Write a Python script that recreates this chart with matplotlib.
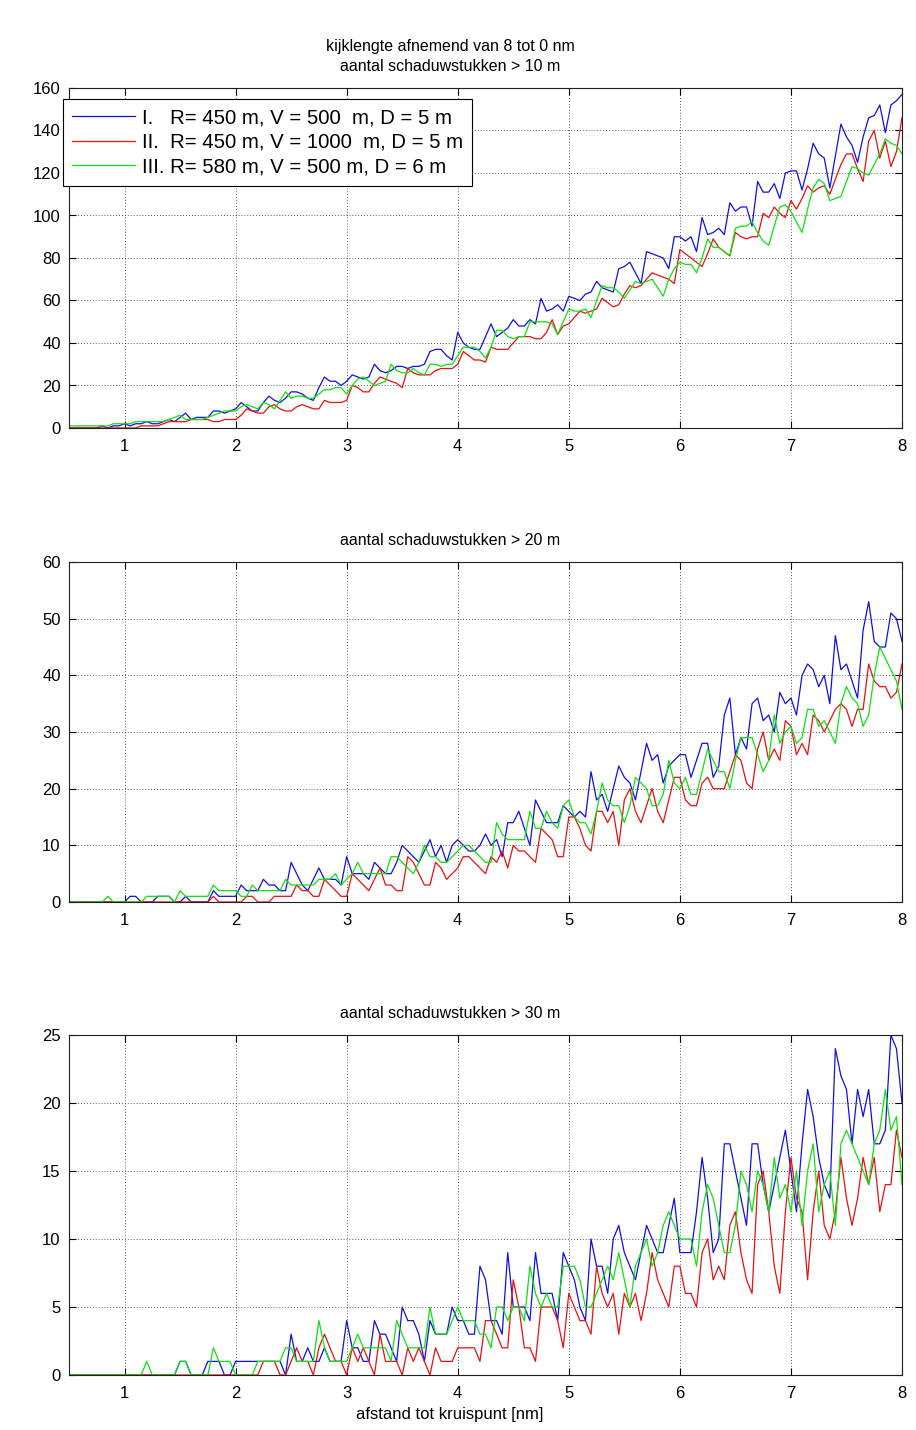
import numpy as np
import matplotlib
matplotlib.use('Agg')
import matplotlib.pyplot as plt

plt.rcParams['font.family'] = ['Liberation Sans', 'DejaVu Sans']

suptitle = 'kijklengte afnemend van 8 tot 0 nm'
titles = ['aantal schaduwstukken > 10 m', 'aantal schaduwstukken > 20 m', 'aantal schaduwstukken > 30 m']
xlab = 'afstand tot kruispunt [nm]'
labels = ['I.   R= 450 m, V = 500  m, D = 5 m',
          'II.  R= 450 m, V = 1000  m, D = 5 m',
          'III. R= 580 m, V = 500 m, D = 6 m']
colours = ['#1010e0', '#e81010', '#10e010']

# distance grid (nm), 0.05 nm steps
afstand = np.linspace(0.5, 8, 151)

# > 10 m
p10_I = [0,0,0,0,0,0,1,0,1,1,
         2,1,2,2,3,2,2,3,4,3, 5,7,4,5,5,5,8,8,7,8,
         9,12,10,8,8,12,15,13,12,14, 17,17,16,14,13,19,24,22,22,20,
         22,25,24,23,24,30,27,26,27,29, 29,28,29,29,30,36,37,37,34,32,
         45,40,38,37,37,43,49,43,45,47, 51,48,48,51,49,61,55,56,58,55,
         62,61,60,63,64,69,66,65,64,75, 76,78,73,68,83,82,81,80,75,90,
         90,88,90,83,99,91,92,94,91,106, 102,104,104,95,116,111,111,115,108,120,
         121,121,112,122,134,129,127,113,128,143, 137,133,125,137,146,147,152,139,152,154,157]
p10_II = [0,0,0,0,0,0,0,0,0,0,
          0,0,0,1,1,1,1,2,3,3, 3,3,4,4,4,4,3,3,4,4,
          4,6,9,8,7,7,10,11,9,8, 8,10,11,10,9,9,13,12,12,12,
          13,20,19,17,17,21,24,23,22,21, 19,28,26,25,25,25,27,28,28,28,
          30,36,34,32,32,31,38,37,37,37, 40,43,43,43,42,42,45,51,44,48,
          49,52,55,54,55,56,61,59,57,58, 63,67,66,67,70,73,72,71,70,68,
          84,82,80,78,76,82,89,85,83,81, 92,90,89,90,90,101,99,104,101,99,
          107,103,108,114,111,113,114,110,117,124, 129,129,122,116,135,140,127,135,123,130,146]
p10_III = [1,1,1,1,1,1,1,1,2,2,
           2,2,3,3,3,3,3,3,4,5, 6,4,4,4,4,5,6,7,8,8,
           8,10,11,10,9,12,11,9,13,17, 14,15,15,14,14,16,18,18,19,19,
           16,20,23,24,22,20,21,22,30,27, 26,26,28,26,25,30,30,29,30,30,
           34,38,38,38,36,33,38,46,46,43, 42,43,43,50,50,50,50,49,44,50,
           56,55,55,56,52,60,67,66,66,64, 61,65,69,68,69,70,66,62,70,75,
           78,77,77,73,80,89,85,85,83,81, 94,95,95,97,92,88,86,95,104,105,
           102,97,92,103,113,117,115,107,108,109, 116,123,122,120,119,124,129,136,134,133,129]

# > 20 m
p20_I = [0,0,0,0,0,0,0,0,0,0,
         0,1,1,0,0,0,1,1,1,0, 0,1,0,0,0,0,2,1,1,1,
         1,3,2,2,2,4,3,3,2,2, 7,5,3,2,4,6,4,4,4,3,
         8,5,5,5,4,7,6,5,5,7, 10,9,8,7,9,11,8,10,7,10,
         11,10,9,9,10,12,10,11,8,14, 14,16,13,10,18,16,14,14,14,17,
         16,15,16,15,23,18,19,16,20,24, 22,21,18,23,28,25,26,21,24,25,
         26,26,22,25,28,28,22,24,33,36, 26,29,27,35,36,32,33,30,37,35,
         36,33,40,42,41,38,40,35,47,41, 42,39,36,48,53,46,45,45,51,50,46]
p20_II = [0,0,0,0,0,0,0,0,0,0,
          0,0,0,0,0,0,0,0,0,0, 0,0,0,0,0,0,1,0,0,0,
          0,0,1,1,0,0,0,1,1,1, 1,3,2,2,1,1,4,3,2,1,
          1,5,4,3,2,4,6,3,3,2, 2,8,7,5,3,3,7,6,4,5,
          6,8,8,7,6,5,8,7,9,6, 10,9,9,8,7,13,12,11,8,8,
          15,15,13,10,9,16,16,14,16,10, 18,20,16,14,17,20,16,14,18,22,
          22,18,17,17,21,22,20,20,20,23, 26,25,21,20,27,30,25,27,25,32,
          31,26,28,26,33,32,30,32,34,35, 34,31,34,34,42,39,38,38,36,37,42]
p20_III = [0,0,0,0,0,0,0,1,0,0,
           0,0,0,0,1,1,1,1,1,0, 2,1,1,1,1,1,3,2,2,2,
           2,1,1,3,2,2,2,2,2,4, 3,3,3,3,3,4,4,4,5,3,
           4,5,7,5,5,5,5,5,8,8, 7,6,5,7,10,8,8,7,7,8,
           9,10,10,9,8,7,7,14,12,11, 11,11,11,16,13,13,16,14,13,17,
           18,15,14,14,12,16,21,18,17,17, 14,17,22,21,20,17,17,19,25,21,
           20,22,19,19,23,27,25,23,23,20, 25,29,29,29,26,23,25,33,28,30,
           31,28,29,34,34,31,32,30,28,35, 38,36,35,31,33,40,45,43,41,39,34]

# > 30 m
p30_I = [0,0,0,0,0,0,0,0,0,0,
         0,0,0,0,0,0,0,0,0,0, 1,1,0,0,0,1,1,1,0,0,
         1,1,1,1,1,1,1,1,1,0, 3,1,1,2,1,1,2,1,1,1,
         4,2,2,1,1,4,3,3,2,1, 5,4,4,3,1,4,3,3,3,5,
         4,4,3,3,8,7,4,4,3,9, 5,5,5,4,9,6,6,6,4,9,
         8,7,5,4,10,8,8,6,10,11, 9,8,7,9,11,10,9,9,11,13,
         9,9,9,12,16,13,9,10,17,17, 15,13,11,17,17,14,12,14,16,18,
         15,12,17,21,19,16,14,13,24,22, 21,17,21,19,21,17,17,18,25,24,20]
p30_II = [0,0,0,0,0,0,0,0,0,0,
          0,0,0,0,0,0,0,0,0,0, 0,0,0,0,0,0,0,0,0,0,
          0,0,0,0,0,1,1,1,0,0, 1,2,1,1,0,2,3,2,1,1,
          0,2,1,2,1,0,3,1,1,1, 0,2,1,2,1,0,2,1,1,1,
          2,2,2,2,1,4,4,3,2,2, 7,5,2,2,1,5,5,5,4,2,
          6,5,4,4,3,8,6,5,6,3, 6,5,6,4,6,9,7,6,5,8,
          8,6,6,5,9,10,7,8,7,11, 12,9,7,6,14,15,12,8,6,12,
          16,13,12,7,12,15,11,10,12,16, 13,11,13,16,14,16,12,14,14,18,16]
p30_III = [0,0,0,0,0,0,0,0,0,0,
           0,0,0,0,1,0,0,0,0,0, 1,1,0,0,0,0,2,1,1,1,
           0,0,0,0,1,1,1,1,1,2, 2,1,1,1,1,4,2,1,1,1,
           1,2,3,2,2,2,2,2,1,4, 3,2,2,2,2,5,3,3,3,4,
           5,4,4,4,3,3,2,5,5,4, 5,5,4,8,6,5,6,5,5,8,
           8,8,7,5,5,6,7,8,7,9, 7,5,8,9,10,8,9,11,12,11,
           10,10,10,8,12,14,13,11,9,9, 11,15,14,12,15,14,12,16,13,14,
           12,15,11,15,17,12,14,15,11,17, 18,17,16,15,14,17,18,21,18,19,14]

data = [[p10_I, p10_II, p10_III], [p20_I, p20_II, p20_III], [p30_I, p30_II, p30_III]]
ymax = [160, 60, 25]
ystep = [20, 10, 5]

W, H = 916, 1430
fig = plt.figure(figsize=(W/100, H/100), dpi=100)
xc = 450/W   # titles are centred a bit left of the axes centre
fig.text(xc, 1-47/H, suptitle, ha='center', va='center', fontsize=11.5)

left, right = 69, 902
tops = [88, 562, 1035]
hgt = 340
tx = (450-left)/(right-left)

for k in range(3):
    ax = fig.add_axes([left/W, 1-(tops[k]+hgt)/H, (right-left)/W, hgt/H])
    lines = []
    for j in range(3):
        l, = ax.plot(afstand, data[k][j], color=colours[j], lw=0.9)
        lines.append(l)
    ax.set_xlim(0.5, 8)
    ax.set_ylim(0, ymax[k])
    ax.set_xticks(range(1, 9))
    ax.set_yticks(range(0, ymax[k]+1, ystep[k]))
    ax.grid(True, color='#222222', linestyle=(0, (1, 2.5)), lw=0.6)
    ax.tick_params(direction='in', top=True, right=True, length=5, width=0.8,
                   labelsize=12, pad=6)
    ax.tick_params(axis='x', pad=8)
    for s in ax.spines.values():
        s.set_color('#202020')
        s.set_linewidth(0.8)
    ax.set_title(titles[k], fontsize=11.5, pad=12, x=tx)
    if k == 0:
        leg = ax.legend(lines, labels, loc='upper left',
                        bbox_to_anchor=(63/W, 1-99/H), bbox_transform=fig.transFigure,
                        fontsize=14.7, fancybox=False, framealpha=1, edgecolor='black',
                        handlelength=3.1, handletextpad=0.3, borderpad=0.45,
                        labelspacing=0.28, borderaxespad=0)
        leg.get_frame().set_linewidth(0.8)

fig.text(xc, 1-1414/H, xlab, ha='center', va='center', fontsize=12)

plt.savefig('out.png', dpi=100)
